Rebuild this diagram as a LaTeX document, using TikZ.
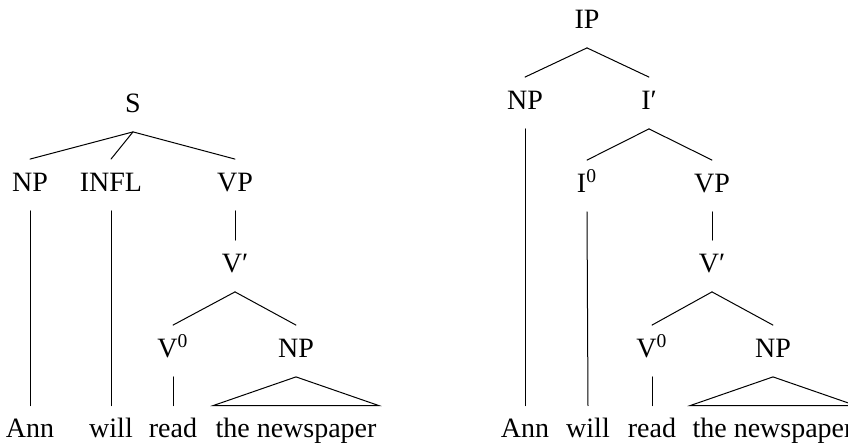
\documentclass[tikz,border=0pt]{standalone}
\usepackage{fontspec}
\setmainfont{Liberation Serif}
\begin{document}
\begin{tikzpicture}[x=0.5pt,y=-0.5pt,
  lab/.style={inner sep=0pt, text height=16pt, text depth=9.5pt, anchor=base, font=\fontsize{14pt}{17pt}\selectfont},
  edge/.style={line width=0.5pt, line cap=round}]
\useasboundingbox (0,0) rectangle (848,448);
\clip (0,0) rectangle (848,448);
% ---------- left tree ----------
\node[lab] (S)    at (133,112.5) {S};
\node[lab] (np1)  at (30,191.5)  {NP};
\node[lab] (infl) at (111,191.5) {INFL};
\node[lab] (vp1)  at (235,191.5) {VP};
\node[lab] (vb1)  at (235,272.5) {V′};
\node[lab] (v01)  at (173,357.5) {V\textsuperscript{0}};
\node[lab] (np2)  at (296,357.5) {NP};
\node[lab] (ann1)  at (30,438)  {Ann};
\node[lab] (will1) at (111,438) {will};
\node[lab] (read1) at (173,438) {read};
\node[lab,inner xsep=1pt] (news1) at (296,438) {the newspaper};
\draw[edge] (S.south) -- (np1.north);
\draw[edge] (S.south) -- (infl.north);
\draw[edge] (S.south) -- (vp1.north);
\draw[edge] (np1.south) -- (ann1.north);
\draw[edge] (infl.south) -- (will1.north);
\draw[edge] (vp1.south) -- (vb1.north);
\draw[edge] (vb1.south) -- (v01.north);
\draw[edge] (vb1.south) -- (np2.north);
\draw[edge] (v01.south) -- (read1.north);
\draw[edge, line join=miter] (np2.south) -- (news1.north west) -- (news1.north east) -- cycle;
% ---------- right tree ----------
\node[lab] (ip)   at (587,28.5)  {IP};
\node[lab] (np3)  at (525,109.5) {NP};
\node[lab] (ib)   at (649,109.5) {I′};
\node[lab] (i0)   at (587,192.5) {I\textsuperscript{0}};
\node[lab] (vp2)  at (712,192.5) {VP};
\node[lab] (vb2)  at (712,272.5) {V′};
\node[lab] (v02)  at (652,357.5) {V\textsuperscript{0}};
\node[lab] (np4)  at (773,357.5) {NP};
\node[lab] (ann2)  at (525,438) {Ann};
\node[lab] (will2) at (588,438) {will};
\node[lab] (read2) at (652,438) {read};
\node[lab,inner xsep=1pt] (news2) at (773,438) {the newspaper};
\draw[edge] (ip.south) -- (np3.north);
\draw[edge] (ip.south) -- (ib.north);
\draw[edge] (np3.south) -- (ann2.north);
\draw[edge] (ib.south) -- (i0.north);
\draw[edge] (ib.south) -- (vp2.north);
\draw[edge] (i0.south) -- (will2.north);
\draw[edge] (vp2.south) -- (vb2.north);
\draw[edge] (vb2.south) -- (v02.north);
\draw[edge] (vb2.south) -- (np4.north);
\draw[edge] (v02.south) -- (read2.north);
\draw[edge, line join=miter] (np4.south) -- (news2.north west) -- (news2.north east) -- cycle;
\end{tikzpicture}
\end{document}
